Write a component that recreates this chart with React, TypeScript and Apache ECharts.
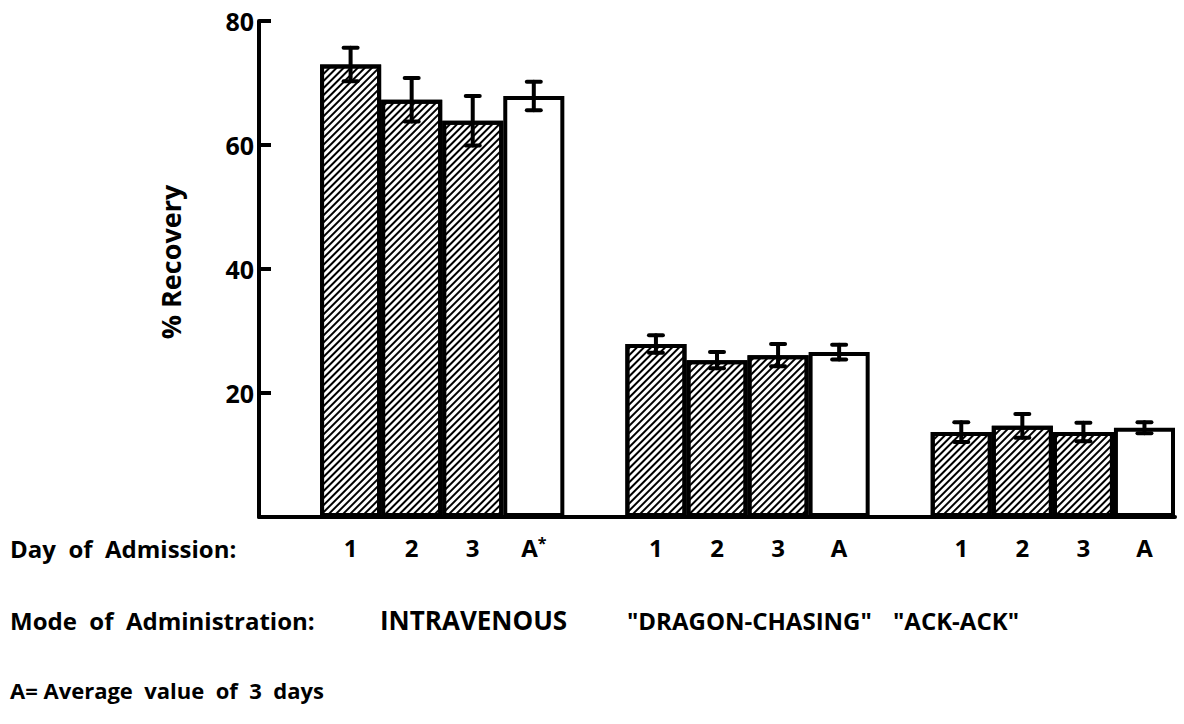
import React, { useEffect, useRef } from 'react';
import * as echarts from 'echarts';

// ---- data ----
const groups = ['INTRAVENOUS', '"DRAGON-CHASING"', '"ACK-ACK"'];
const dayLabels = ['1', '2', '3', 'A'];
const intravenous = [73.0, 67.3, 63.9, 67.9];
const intravenousErr = [2.7, 3.5, 4.0, 2.3];
const dragonChasing = [27.9, 25.3, 26.1, 26.6];
const dragonChasingErr = [1.4, 1.3, 1.8, 1.2];
const ackAck = [13.7, 14.7, 13.7, 14.4];
const ackAckErr = [1.6, 1.9, 1.5, 0.9];
const yTickValues = [0, 20, 40, 60, 80];

const FONT = '"Open Sans", "DejaVu Sans", sans-serif';

export default function App() {
  const ref = useRef<HTMLDivElement>(null);

  useEffect(() => {
    if (!ref.current) return;
    const chart = echarts.init(ref.current, undefined, { renderer: 'svg' });

    const groupValues = [intravenous, dragonChasing, ackAck];
    const groupErrs = [intravenousErr, dragonChasingErr, ackAckErr];

    const slots: { key: string; label: string }[] = [];
    const hatched: any[] = [];
    const plain: any[] = [];
    const errData: any[] = [];
    groups.forEach((g, gi) => {
      slots.push({ key: `gap-${gi}`, label: '' });
      hatched.push('-');
      plain.push('-');
      dayLabels.forEach((d, di) => {
        const idx = slots.length;
        slots.push({ key: `${g}-${d}`, label: gi === 0 && d === 'A' ? 'A*' : d });
        const v = groupValues[gi][di];
        if (d === 'A') {
          hatched.push('-');
          plain.push(v);
        } else {
          hatched.push(v);
          plain.push('-');
        }
        errData.push([idx, v, groupErrs[gi][di]]);
      });
    });
    const labelMap: Record<string, string> = {};
    slots.forEach((s) => (labelMap[s.key] = s.label));

    const barStyle = {
      color: '#ffffff',
      borderColor: '#000000',
      borderWidth: 4,
    };

    const textStyle = (size: number) => ({
      fontSize: size,
      fontWeight: 'bold',
      fontFamily: FONT,
      fill: '#000',
      verticalAlign: 'middle',
    });

    const option: any = {
      animation: false,
      backgroundColor: '#ffffff',
      grid: { left: 259, right: 9, top: 21, bottom: 207, containLabel: false },
      xAxis: {
        type: 'category',
        data: slots.map((s) => s.key),
        axisLine: { show: true, lineStyle: { color: '#000', width: 4 } },
        axisTick: { show: false },
        axisLabel: {
          interval: 0,
          margin: 18,
          color: '#000',
          fontSize: 24,
          fontWeight: 'bold',
          fontFamily: FONT,
          formatter: (v: string) => {
            const l = labelMap[v];
            return l === 'A*' ? 'A{s|*}' : l;
          },
          rich: {
            s: { fontSize: 16, fontWeight: 'bold', fontFamily: FONT, color: '#000', verticalAlign: 'top' },
          },
        },
        splitLine: { show: false },
      },
      yAxis: {
        type: 'value',
        min: yTickValues[0],
        max: yTickValues[yTickValues.length - 1],
        interval: 20,
        axisLine: { show: true, lineStyle: { color: '#000', width: 4 } },
        axisTick: { show: true, inside: true, length: 12, lineStyle: { color: '#000', width: 4 } },
        axisLabel: {
          color: '#000',
          fontSize: 25,
          fontWeight: 'bold',
          fontFamily: FONT,
          margin: 5,
          formatter: (v: number) => (v === 0 ? '' : String(v)),
        },
        splitLine: { show: false },
      },
      series: [
        {
          type: 'bar',
          data: hatched,
          barCategoryGap: 0,
          barGap: '-100%',
          itemStyle: {
            ...barStyle,
            decal: {
              symbol: 'rect',
              symbolSize: 1,
              dashArrayX: [1, 0],
              dashArrayY: [2, 3],
              rotation: -Math.PI / 4,
              color: '#000000',
            },
          },
          z: 2,
        },
        {
          type: 'bar',
          data: plain,
          barCategoryGap: 0,
          barGap: '-100%',
          itemStyle: barStyle,
          z: 2,
        },
        {
          type: 'custom',
          data: errData,
          z: 5,
          renderItem: (params: any, api: any) => {
            const x = api.value(0);
            const y = api.value(1);
            const e = api.value(2);
            const top = api.coord([x, y + e]);
            const bot = api.coord([x, y - e]);
            const hw = 7;
            const style = { stroke: '#000', lineWidth: 4, lineCap: 'round' };
            return {
              type: 'group',
              children: [
                { type: 'line', shape: { x1: top[0], y1: top[1], x2: bot[0], y2: bot[1] }, style },
                { type: 'line', shape: { x1: top[0] - hw, y1: top[1], x2: top[0] + hw, y2: top[1] }, style },
                { type: 'line', shape: { x1: bot[0] - hw, y1: bot[1], x2: bot[0] + hw, y2: bot[1] }, style },
              ],
            };
          },
        },
      ],
      graphic: [
        {
          type: 'text',
          x: 170,
          y: 262,
          rotation: Math.PI / 2,
          style: { ...textStyle(27), text: '% Recovery', align: 'center' },
        },
        { type: 'text', x: 10, y: 548, style: { ...textStyle(24), text: 'Day  of  Admission:' } },
        { type: 'text', x: 10, y: 620, style: { ...textStyle(24), text: 'Mode  of  Administration:' } },
        { type: 'text', x: 380, y: 620, style: { ...textStyle(26), text: groups[0] } },
        { type: 'text', x: 627, y: 620, style: { ...textStyle(24), text: groups[1] } },
        { type: 'text', x: 893, y: 620, style: { ...textStyle(24), text: groups[2] } },
        { type: 'text', x: 10, y: 690, style: { ...textStyle(22), text: 'A= Average  value  of  3  days' } },
      ],
    };

    chart.setOption(option);
    return () => chart.dispose();
  }, []);

  return (
    <div
      ref={ref}
      style={{ position: 'fixed', left: 0, top: 0, width: 1184, height: 724, background: '#fff' }}
    />
  );
}
